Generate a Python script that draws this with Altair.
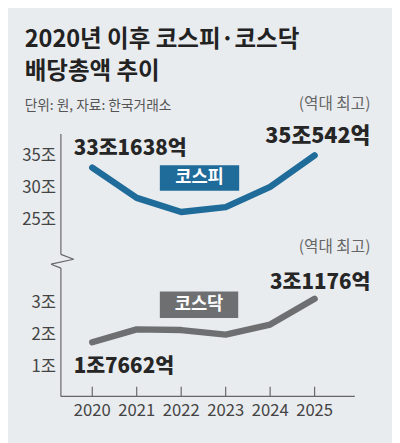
import altair as alt
import pandas as pd

# data (unit: 조 won)
years = [2020, 2021, 2022, 2023, 2024, 2025]
kospi_vals = [33.16, 28.45, 26.26, 27.03, 30.17, 35.05]
kosdaq_vals = [1.77, 2.17, 2.15, 2.01, 2.32, 3.12]
kospi_ticks = [25, 30, 35]
kosdaq_ticks = [1, 2, 3]
kospi_first, kospi_last = "33조1638억", "35조542억"
kosdaq_first, kosdaq_last = "1조7662억", "3조1176억"
record_text = "(역대 최고)"
title_lines = ["2020년 이후 코스피·코스닥", "배당총액 추이"]
subtitle = "단위: 원, 자료: 한국거래소"

W, H = 392, 435
BG = "#e9ecef"
BLUE = "#1f6b99"
GRAY = "#6e6f71"
KR = "Noto Sans CJK KR"
NARROW = "Liberation Sans Narrow, Noto Sans CJK KR"


def lin_domain(v0, px0, ppu, size):
    # value v0 sits at pixel px0, ppu pixels per unit (y grows downward)
    return [v0 - (size - px0) / ppu, v0 + px0 / ppu]


x_scale = alt.Scale(domain=[2020 - 86 / 45.4, 2020 + (W - 86) / 45.4], nice=False, zero=False)
kospi_scale = alt.Scale(domain=lin_domain(35, 146.3, 6.57, H), nice=False, zero=False)
kosdaq_scale = alt.Scale(domain=lin_domain(3, 296.3, 32.85, H), nice=False, zero=False)

X = alt.X("year:Q", scale=x_scale, axis=None)


def panel(vals, ticks, color, scale):
    Y = alt.Y("value:Q", scale=scale, axis=None)
    df = pd.DataFrame({"year": years, "value": vals})
    line = alt.Chart(df).mark_line(
        color=color, strokeWidth=6.5, strokeCap="round", strokeJoin="round"
    ).encode(x=X, y=Y)
    tick_df = pd.DataFrame({"value": ticks, "label": [f"{t}조" for t in ticks]})
    tick_labels = alt.Chart(tick_df).mark_text(
        align="right", baseline="middle", font=NARROW, fontSize=17, color="#444"
    ).encode(x=alt.value(49), y=Y, text="label:N")
    return line, tick_labels, Y


kospi_line, kospi_ticklab, Yp = panel(kospi_vals, kospi_ticks, BLUE, kospi_scale)
kosdaq_line, kosdaq_ticklab, Yq = panel(kosdaq_vals, kosdaq_ticks, GRAY, kosdaq_scale)


def note(year, value, label, Y, dx, dy, align, size, color, weight=900):
    df = pd.DataFrame({"year": [year], "value": [value], "label": [label]})
    return alt.Chart(df).mark_text(
        align=align, baseline="middle", dx=dx, dy=dy, font=KR,
        fontSize=size, fontWeight=weight, color=color
    ).encode(x=X, y=Y, text="label:N")


kospi_layer = alt.layer(
    kospi_line,
    kospi_ticklab,
    note(years[0], kospi_vals[0], kospi_first, Yp, -19, -19, "left", 21, "#262626"),
    note(years[-1], kospi_vals[-1], kospi_last, Yp, 57, -20, "right", 22, "#262626"),
    note(years[-1], kospi_vals[-1], record_text, Yp, 57, -52, "right", 16, "#666", "normal"),
)
kosdaq_layer = alt.layer(
    kosdaq_line,
    kosdaq_ticklab,
    note(years[0], kosdaq_vals[0], kosdaq_first, Yq, -19, 25, "left", 21, "#262626"),
    note(years[-1], kosdaq_vals[-1], kosdaq_last, Yq, 57, -16, "right", 21, "#262626"),
    note(years[-1], kosdaq_vals[-1], record_text, Yq, 57, -53, "right", 16, "#666", "normal"),
)

one = pd.DataFrame({"a": [0]})


def seg(x1, y1, x2, y2, color="#666", w=1.2):
    return alt.Chart(one).mark_rule(color=color, strokeWidth=w).encode(
        x=alt.value(x1), y=alt.value(y1), x2=alt.value(x2), y2=alt.value(y2)
    )


def label(x, y, text, size, color, weight="normal", align="left", font=KR):
    return alt.Chart(pd.DataFrame({"t": [text]})).mark_text(
        align=align, baseline="middle", font=font, fontSize=size,
        fontWeight=weight, color=color
    ).encode(x=alt.value(x), y=alt.value(y), text="t:N")


def box(x1, y1, x2, y2, color):
    return alt.Chart(one).mark_rect(color=color).encode(
        x=alt.value(x1), y=alt.value(y1), x2=alt.value(x2), y2=alt.value(y2)
    )


year_df = pd.DataFrame({"year": years, "label": [str(y) for y in years]})
year_ticks = alt.Chart(year_df).mark_rule(color="#666", strokeWidth=1.2).encode(
    x=X, y=alt.value(382), y2=alt.value(392)
)
year_labels = alt.Chart(year_df).mark_text(
    baseline="middle", font=NARROW, fontSize=17, color="#444"
).encode(x=X, y=alt.value(407), text="label:N")

deco = alt.layer(
    label(17, 28.5, title_lines[0], 24, "#222", "bold"),
    label(17, 61, title_lines[1], 24, "#222", "bold"),
    label(17, 96, subtitle, 14, "#555"),
    # y axis with a break
    seg(54, 124, 54, 247),
    seg(54, 247, 67, 252),
    seg(67, 252, 44, 257),
    seg(44, 257, 54, 261),
    seg(54, 261, 54, 392),
    # x axis
    seg(54, 392, 354, 392),
    year_ticks,
    year_labels,
    # series name boxes
    box(155, 156, 236, 182, BLUE),
    label(195.5, 169, "코스피", 18, "white", "bold", "center"),
    box(155, 285, 235, 312, GRAY),
    label(195, 298.5, "코스닥", 18, "white", "bold", "center"),
)

chart = alt.layer(kospi_layer, kosdaq_layer, deco).resolve_scale(
    y="independent"
).properties(
    width=W, height=H, autosize="none", padding=0, background=BG
).configure_view(stroke=None)

chart.save("out.html", embed_options={"renderer": "svg", "actions": False})
